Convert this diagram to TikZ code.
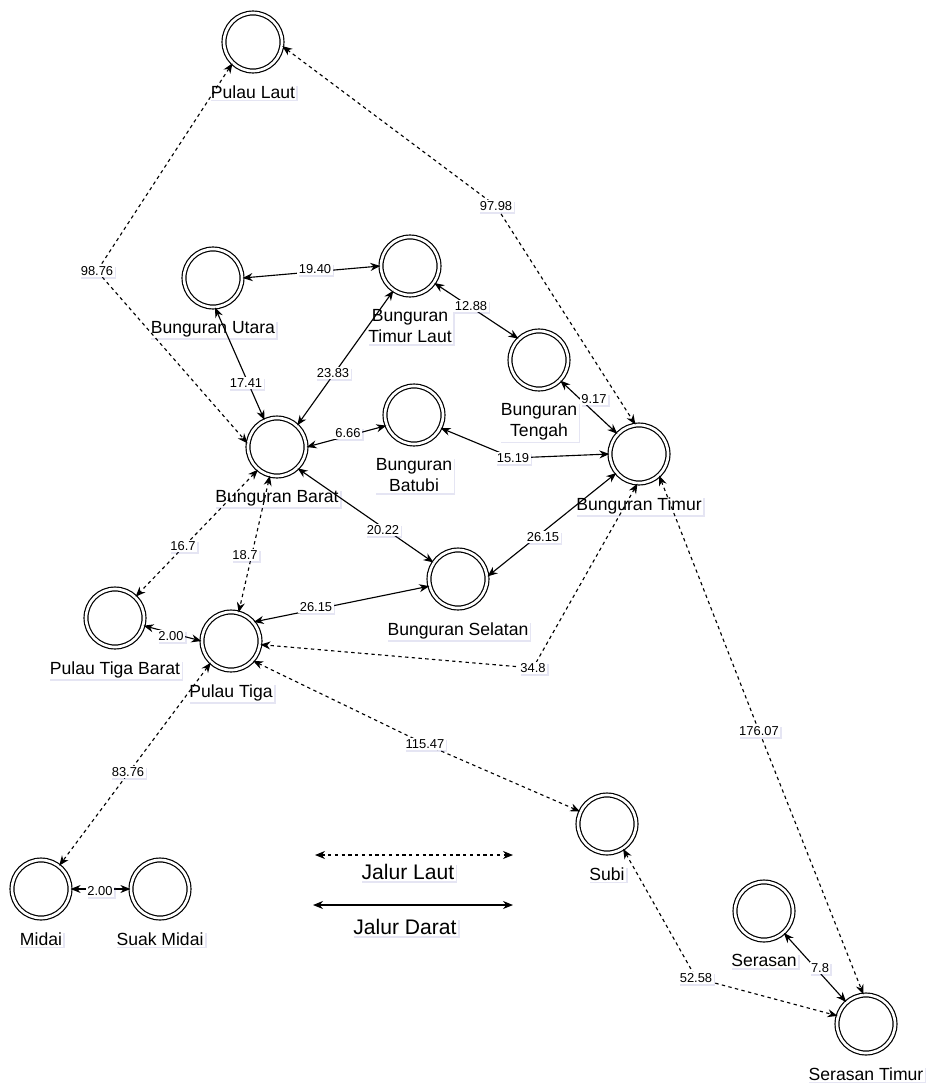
\documentclass[tikz,border=0pt]{standalone}
\usepackage{fontspec}
\setmainfont{Liberation Sans}
\usetikzlibrary{arrows.meta, shadows}
\pgfdeclarelayer{front}
\pgfsetlayers{main,front}

\begin{document}
\begin{tikzpicture}[
  x=0.025cm, y=-0.025cm,
  bayang/.style={drop shadow={shadow xshift=1.2pt, shadow yshift=-1.2pt, opacity=0.15, fill=blue!35!gray}},
  kota/.style={circle, draw, fill=white, line width=0.85pt, double, double distance=1.9pt, minimum size=1.45cm, inner sep=0pt, bayang},
  nama/.style={fill=white, inner sep=1pt, align=center, font=\fontsize{12.5}{15}\selectfont, bayang, yshift=-0.3cm},
  jarak/.style={fill=white, inner sep=1pt, font=\fontsize{9.2}{10}\selectfont, bayang},
  jdarat/.style={{Stealth[length=2.5mm, width=2mm]}-{Stealth[length=2.5mm, width=2mm]}, line width=0.8pt},
  jlaut/.style={jdarat, line width=0.8pt, dash pattern=on 2.4pt off 2.4pt}
]
  \useasboundingbox (0,0) rectangle (927,1084);

  % pulau / kecamatan
  \node[kota, label={[nama]below:Pulau Laut}] (plaut) at (253,42) {};
  \node[kota, label={[nama]below:Bunguran Utara}] (utara) at (213,278) {};
  \node[kota, label={[nama]below:{Bunguran\\Timur Laut}}] (tlaut) at (410,266) {};
  \node[kota, label={[nama]below:{Bunguran\\Tengah}}] (tengah) at (539,360) {};
  \node[kota, label={[nama]below:Bunguran Barat}] (barat) at (277,447) {};
  \node[kota, label={[nama]below:{Bunguran\\Batubi}}] (batubi) at (414,415) {};
  \node[kota, label={[nama]below:Bunguran Timur}] (timur) at (639,454) {};
  \node[kota, label={[nama]below:Bunguran Selatan}] (selatan) at (458,579) {};
  \node[kota, label={[nama]below:Pulau Tiga Barat}] (tbarat) at (115,618) {};
  \node[kota, label={[nama]below:Pulau Tiga}] (tiga) at (231,641) {};
  \node[kota, label={[nama]below:Midai}] (midai) at (41,889) {};
  \node[kota, label={[nama]below:Suak Midai}] (suak) at (160,889) {};
  \node[kota, label={[nama]below:Subi}] (subi) at (607,824) {};
  \node[kota, label={[nama]below:Serasan}] (serasan) at (764,911) {};
  \node[kota, label={[nama]below:Serasan Timur}] (stimur) at (866,1024) {};

  % jarak
  \begin{pgfonlayer}{front}
    \node[jarak] (d1940) at (315,269) {19.40};
    \node[jarak] (d1741) at (246,383) {17.41};
    \node[jarak] (d2383) at (333,373) {23.83};
    \node[jarak] (d1288) at (471,306) {12.88};
    \node[jarak] (d917) at (594,399) {9.17};
    \node[jarak] (d1519) at (513,458) {15.19};
    \node[jarak] (d666) at (348,433) {6.66};
    \node[jarak] (d2022) at (383,530) {20.22};
    \node[jarak] (d2615a) at (543,537) {26.15};
    \node[jarak] (d2615b) at (316,607) {26.15};
    \node[jarak] (d200a) at (171,636) {2.00};
    \node[jarak] (d200b) at (100,891) {2.00};
    \node[jarak] (d78) at (820,968) {7.8};
    \node[jarak] (d9876) at (97,271) {98.76};
    \node[jarak] (d9798) at (496,206) {97.98};
    \node[jarak] (d167) at (183,546) {16.7};
    \node[jarak] (d187) at (245,555) {18.7};
    \node[jarak] (d348) at (533,668) {34.8};
    \node[jarak] (d11547) at (425,744) {115.47};
    \node[jarak] (d8376) at (128,772) {83.76};
    \node[jarak] (d17607) at (759,731) {176.07};
    \node[jarak] (d5258) at (696,978) {52.58};
  \end{pgfonlayer}

  % jalur darat
  \draw[jdarat] (utara.0) -- (tlaut.180);
  \draw[jdarat] (utara.-86) -- (barat.115);
  \draw[jdarat] (tlaut.-124) -- (barat.47);
  \draw[jdarat] (tlaut.-35) -- (tengah.134);
  \draw[jdarat] (tengah.-44) -- (timur.137);
  \draw[jdarat] (batubi.-26) -- (d1519.center) -- (timur.180);
  \draw[jdarat] (barat.0) -- (batubi.-159);
  \draw[jdarat] (barat.-46) -- (selatan.146);
  \draw[jdarat] (selatan.5) -- (timur.-140);
  \draw[jdarat] (tiga.40) -- (selatan.-166);
  \draw[jdarat] (tbarat.-15) -- (tiga.180);
  \draw[jdarat] (midai.0) -- (suak.180);
  \draw[jdarat] (serasan.-48) -- (stimur.132);

  % jalur laut
  \draw[jlaut] (plaut.-134) -- (d9876.center) -- (barat.173);
  \draw[jlaut] (plaut.-8) -- (d9798.center) -- (timur.97);
  \draw[jlaut] (barat.-130) -- (tbarat.46);
  \draw[jlaut] (barat.-104) -- (tiga.75);
  \draw[jlaut] (timur.-93) -- (d348.center) -- (tiga.-7);
  \draw[jlaut] (tiga.-42) -- (d11547.center) -- (subi.155);
  \draw[jlaut] (tiga.-133) -- (midai.52);
  \draw[jlaut] (timur.-47) -- (d17607.center) -- (stimur.95);
  \draw[jlaut] (subi.-57) -- (d5258.center) -- (stimur.164);

  % keterangan
  \coordinate (lautA) at (315,855);
  \coordinate (lautB) at (513,855);
  \coordinate (daratA) at (313,905);
  \coordinate (daratB) at (513,905);
  \draw[jlaut] (lautA) -- (lautB);
  \draw[jdarat] (daratA) -- (daratB);
  \node[nama, yshift=0.3cm, font=\fontsize{15}{17}\selectfont] (kLaut) at (408,872) {Jalur Laut};
  \node[nama, yshift=0.3cm, font=\fontsize{15}{17}\selectfont] (kDarat) at (405,927) {Jalur Darat};
\end{tikzpicture}
\end{document}
